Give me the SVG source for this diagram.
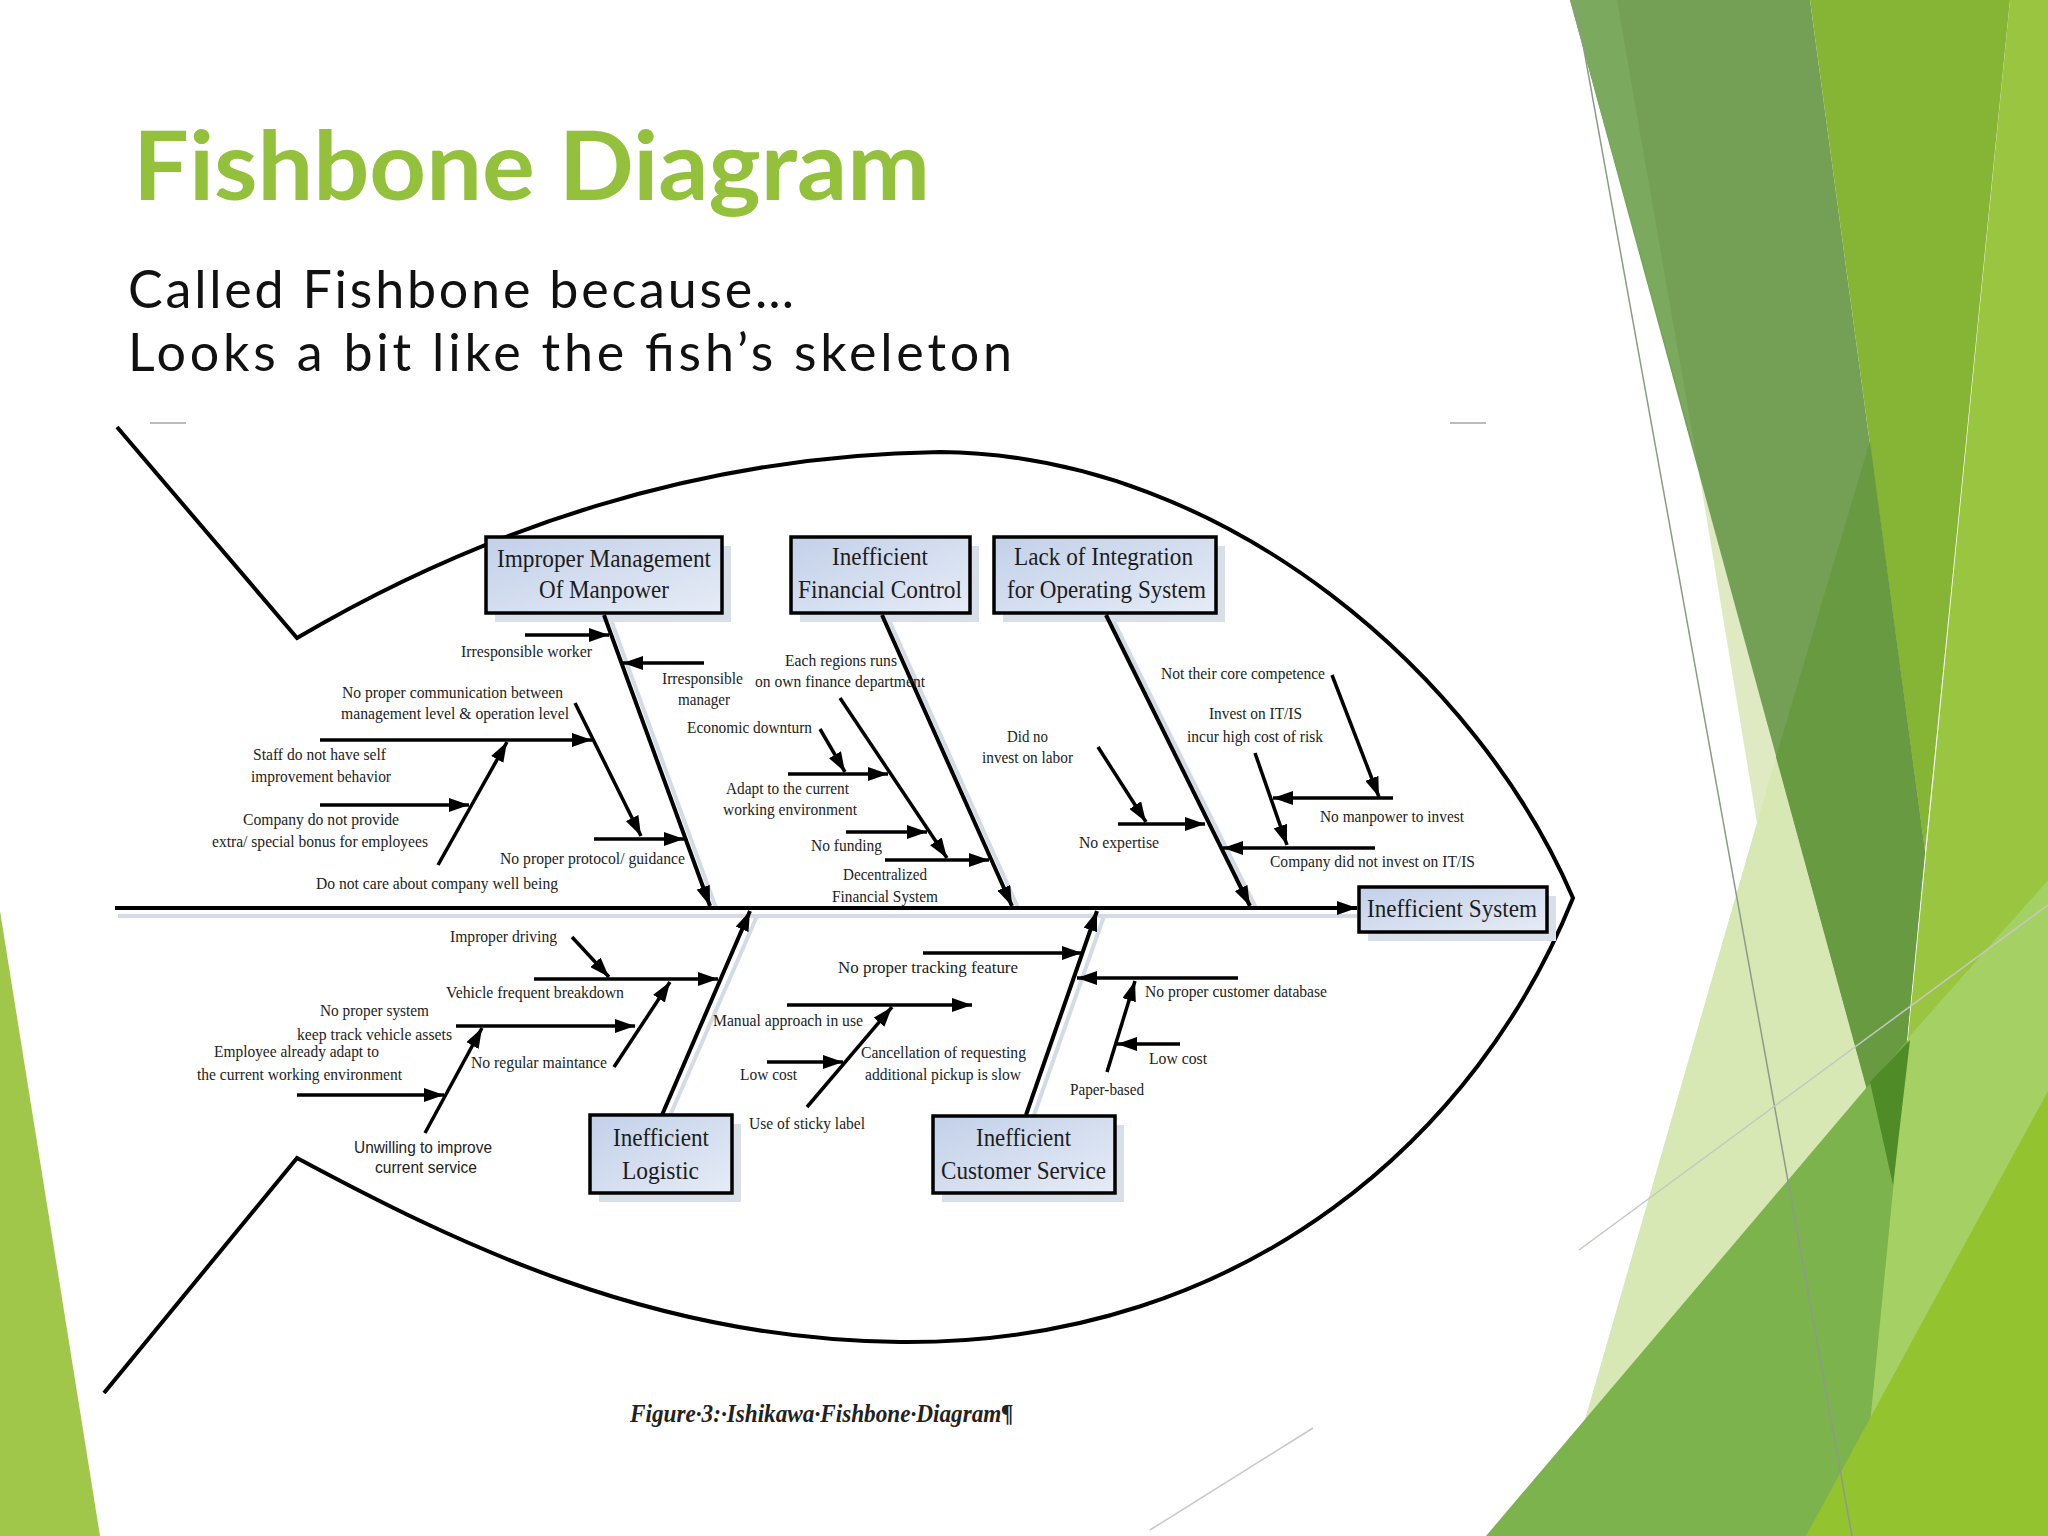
<svg xmlns="http://www.w3.org/2000/svg" width="2048" height="1536" viewBox="0 0 2048 1536">
<defs>
<style>
.lbl{font-family:"Liberation Serif","Times New Roman",serif;font-size:17px;fill:#222;}
.lbs{font-family:"Liberation Sans",Arial,sans-serif;font-size:17px;fill:#222;}
.bt{font-family:"Liberation Serif","Times New Roman",serif;font-size:26px;fill:#1c1c1c;}
.box{fill:url(#bgr);stroke:#000;stroke-width:3.5;}
.shd{fill:#d9dfe8;}
.bone{stroke:#000;stroke-width:4;fill:none;marker-end:url(#ah);}
.sub{stroke:#000;stroke-width:3.5;fill:none;marker-end:url(#ah);}
.lsh{stroke:#d4dbe6;stroke-width:4;fill:none;}
.fish{stroke:#000;stroke-width:4;fill:none;stroke-linejoin:miter;}
</style>
<linearGradient id="bgr" x1="0" y1="0" x2="1" y2="1">
<stop offset="0" stop-color="#c2d0e9"/>
<stop offset="1" stop-color="#e6ecf6"/>
</linearGradient>
<marker id="ah" viewBox="0 0 20 14" markerWidth="20" markerHeight="14" refX="20" refY="7" orient="auto" markerUnits="userSpaceOnUse">
<path d="M0,0 L20,7 L0,14 z" fill="#000"/>
</marker>
</defs>
<rect width="2048" height="1536" fill="#fff"/>
<g id="decor">
<polygon points="0,911 0,1536 100,1536" fill="#a0c64a"/>
<polygon points="1697,460 1893,1185 1585,1420 1757,823" fill="#dfeac3"/>
<polygon points="1570,0 1810,0 1925,852 1893,1185" fill="#73a054"/>
<polygon points="1570,0 1617,0 1697,460" fill="#7ba95d"/>
<polygon points="1810,0 2010,0 1925,852" fill="#86b535"/>
<polygon points="2010,0 2048,0 2048,1536 1859,1536" fill="#9ac541"/>
<polygon points="1776,757 1893,1185 1585,1420" fill="#d8e8b4"/>
<polygon points="1870,441 1925,852 1893,1185 1776,757" fill="#689b41"/>
<polygon points="1486,1536 1867,1087 2048,880 2048,1536" fill="#7cb34c"/>
<polygon points="1908,1038 2048,880 2048,1536 1859,1536" fill="#a5d164"/>
<polygon points="1806,1536 2048,1091 2048,1536" fill="#93c32f"/>
<polygon points="1870,1082 1910,1040 1893,1185" fill="#4f8b27"/>
<line x1="1575" y1="0" x2="1852" y2="1536" stroke="#8e9a88" stroke-width="1.5"/>
<line x1="1579" y1="1250" x2="2048" y2="905" stroke="#c4c8c0" stroke-width="1.5"/>
<line x1="1313" y1="1428" x2="1150" y2="1530" stroke="#c8c8c8" stroke-width="1.5"/>
</g>
<g id="title">
<text x="133" y="200" font-family="Lato,'Open Sans',sans-serif" font-weight="bold" font-size="96" fill="#93c13b" textLength="797" lengthAdjust="spacingAndGlyphs">Fishbone Diagram</text>
<text x="128" y="308" font-family="Lato,'Open Sans',sans-serif" font-size="52" fill="#111" textLength="666" lengthAdjust="spacing">Called Fishbone because…</text>
<text x="128" y="371" font-family="Lato,'Open Sans',sans-serif" font-size="52" fill="#111" textLength="884" lengthAdjust="spacing">Looks a bit like the fish’s skeleton</text>
</g>
<g id="fish-outline">
<path class="fish" d="M117,427 L297,638 C480,530 700,455 940,452 C1230,455 1480,680 1573,898 C1480,1130 1250,1345 900,1342 C650,1340 450,1240 297,1158 L104,1393"/>
<line x1="150" y1="423" x2="186" y2="423" stroke="#bbb" stroke-width="2"/>
<line x1="1450" y1="423" x2="1486" y2="423" stroke="#bbb" stroke-width="2"/>
</g>
<g id="shadows">
<line class="lsh" x1="118" y1="916" x2="1357" y2="916"/>
<line class="lsh" x1="611" y1="620" x2="716" y2="908"/>
<line class="lsh" x1="889" y1="620" x2="1018" y2="908"/>
<line class="lsh" x1="1113" y1="620" x2="1256" y2="908"/>
<line class="lsh" x1="669" y1="1118" x2="757" y2="916"/>
<line class="lsh" x1="1033" y1="1118" x2="1104" y2="916"/>
<rect class="shd" x="495" y="546" width="236" height="76"/>
<rect class="shd" x="800" y="546" width="179" height="76"/>
<rect class="shd" x="1003" y="546" width="222" height="76"/>
<rect class="shd" x="599" y="1124" width="142" height="78"/>
<rect class="shd" x="942" y="1125" width="182" height="77"/>
<rect class="shd" x="1368" y="896" width="188" height="45"/>
</g>
<g id="connectors">
<line class="bone" x1="115" y1="908" x2="1357" y2="908"/>
<line class="bone" x1="604" y1="615" x2="710" y2="906"/>
<line class="bone" x1="882" y1="615" x2="1012" y2="906"/>
<line class="bone" x1="1106" y1="615" x2="1250" y2="906"/>
<line class="bone" x1="662" y1="1115" x2="750" y2="911"/>
<line class="bone" x1="1026" y1="1115" x2="1097" y2="911"/>
<line class="sub" x1="525" y1="635" x2="609" y2="635"/>
<line class="sub" x1="704" y1="663" x2="623" y2="663"/>
<line class="sub" x1="575" y1="703" x2="641" y2="836"/>
<line class="sub" x1="320" y1="740" x2="592" y2="740"/>
<line class="sub" x1="320" y1="805" x2="469" y2="805"/>
<line class="sub" x1="438" y1="865" x2="507" y2="742"/>
<line class="sub" x1="594" y1="839" x2="684" y2="839"/>
<line class="sub" x1="840" y1="698" x2="947" y2="858"/>
<line class="sub" x1="820" y1="729" x2="845" y2="772"/>
<line class="sub" x1="788" y1="774" x2="888" y2="774"/>
<line class="sub" x1="846" y1="832" x2="927" y2="832"/>
<line class="sub" x1="885" y1="860" x2="989" y2="860"/>
<line class="sub" x1="1098" y1="747" x2="1146" y2="822"/>
<line class="sub" x1="1118" y1="824" x2="1205" y2="824"/>
<line class="sub" x1="1332" y1="675" x2="1379" y2="797"/>
<line class="sub" x1="1255" y1="753" x2="1287" y2="845"/>
<line class="sub" x1="1393" y1="798" x2="1273" y2="798"/>
<line class="sub" x1="1375" y1="848" x2="1223" y2="848"/>
<line class="sub" x1="572" y1="937" x2="609" y2="977"/>
<line class="sub" x1="534" y1="979" x2="718" y2="979"/>
<line class="sub" x1="456" y1="1026" x2="635" y2="1026"/>
<line class="sub" x1="614" y1="1067" x2="670" y2="982"/>
<line class="sub" x1="297" y1="1095" x2="444" y2="1095"/>
<line class="sub" x1="425" y1="1133" x2="482" y2="1028"/>
<line class="sub" x1="923" y1="953" x2="1082" y2="953"/>
<line class="sub" x1="787" y1="1005" x2="972" y2="1005"/>
<line class="sub" x1="767" y1="1062" x2="843" y2="1062"/>
<line class="sub" x1="807" y1="1107" x2="892" y2="1007"/>
<line class="sub" x1="1238" y1="978" x2="1077" y2="978"/>
<line class="sub" x1="1180" y1="1044" x2="1117" y2="1044"/>
<line class="sub" x1="1107" y1="1072" x2="1135" y2="981"/>
</g>
<g id="box-manpower">
<rect class="box" x="486" y="537" width="236" height="76"/>
<text class="bt" x="497" y="567" textLength="214" lengthAdjust="spacingAndGlyphs">Improper Management</text>
<text class="bt" x="539" y="598" textLength="130" lengthAdjust="spacingAndGlyphs">Of Manpower</text>
</g>
<g id="box-financial">
<rect class="box" x="791" y="537" width="179" height="76"/>
<text class="bt" x="832" y="565" textLength="96" lengthAdjust="spacingAndGlyphs">Inefficient</text>
<text class="bt" x="798" y="598" textLength="164" lengthAdjust="spacingAndGlyphs">Financial Control</text>
</g>
<g id="box-integration">
<rect class="box" x="994" y="537" width="222" height="76"/>
<text class="bt" x="1014" y="565" textLength="179" lengthAdjust="spacingAndGlyphs">Lack of Integration</text>
<text class="bt" x="1007" y="598" textLength="199" lengthAdjust="spacingAndGlyphs">for Operating System</text>
</g>
<g id="box-logistic">
<rect class="box" x="590" y="1115" width="142" height="78"/>
<text class="bt" x="613" y="1146" textLength="96" lengthAdjust="spacingAndGlyphs">Inefficient</text>
<text class="bt" x="622" y="1179" textLength="77" lengthAdjust="spacingAndGlyphs">Logistic</text>
</g>
<g id="box-customer">
<rect class="box" x="933" y="1116" width="182" height="77"/>
<text class="bt" x="976" y="1146" textLength="95" lengthAdjust="spacingAndGlyphs">Inefficient</text>
<text class="bt" x="941" y="1179" textLength="165" lengthAdjust="spacingAndGlyphs">Customer Service</text>
</g>
<g id="box-system">
<rect class="box" x="1359" y="887" width="188" height="45"/>
<text class="bt" x="1367" y="917" font-size="27" textLength="170" lengthAdjust="spacingAndGlyphs">Inefficient System</text>
</g>
<g id="cause-irresponsible-worker"><text class="lbl" x="461" y="657" textLength="131" lengthAdjust="spacingAndGlyphs">Irresponsible worker</text></g>
<g id="cause-irresponsible-manager"><text class="lbl" x="662" y="684" textLength="81" lengthAdjust="spacingAndGlyphs">Irresponsible</text><text class="lbl" x="678" y="705" textLength="52" lengthAdjust="spacingAndGlyphs">manager</text></g>
<g id="cause-communication"><text class="lbl" x="342" y="698" textLength="221" lengthAdjust="spacingAndGlyphs">No proper communication between</text><text class="lbl" x="341" y="719" textLength="228" lengthAdjust="spacingAndGlyphs">management level &amp; operation level</text></g>
<g id="cause-staff"><text class="lbl" x="253" y="760" textLength="133" lengthAdjust="spacingAndGlyphs">Staff do not have self</text><text class="lbl" x="251" y="782" textLength="140" lengthAdjust="spacingAndGlyphs">improvement behavior</text></g>
<g id="cause-bonus"><text class="lbl" x="243" y="825" textLength="156" lengthAdjust="spacingAndGlyphs">Company do not provide</text><text class="lbl" x="212" y="847" textLength="216" lengthAdjust="spacingAndGlyphs">extra/ special bonus for employees</text></g>
<g id="cause-care"><text class="lbl" x="316" y="889" textLength="242" lengthAdjust="spacingAndGlyphs">Do not care about company well being</text></g>
<g id="cause-protocol"><text class="lbl" x="500" y="864" textLength="185" lengthAdjust="spacingAndGlyphs">No proper protocol/ guidance</text></g>
<g id="cause-regions"><text class="lbl" x="785" y="666" textLength="112" lengthAdjust="spacingAndGlyphs">Each regions runs</text><text class="lbl" x="755" y="687" textLength="170" lengthAdjust="spacingAndGlyphs">on own finance department</text></g>
<g id="cause-economic"><text class="lbl" x="687" y="733" textLength="125" lengthAdjust="spacingAndGlyphs">Economic downturn</text></g>
<g id="cause-adapt"><text class="lbl" x="726" y="794" textLength="123" lengthAdjust="spacingAndGlyphs">Adapt to the current</text><text class="lbl" x="723" y="815" textLength="134" lengthAdjust="spacingAndGlyphs">working environment</text></g>
<g id="cause-funding"><text class="lbl" x="811" y="851" textLength="71" lengthAdjust="spacingAndGlyphs">No funding</text></g>
<g id="cause-decentralized"><text class="lbl" x="843" y="880" textLength="84" lengthAdjust="spacingAndGlyphs">Decentralized</text><text class="lbl" x="832" y="902" textLength="106" lengthAdjust="spacingAndGlyphs">Financial System</text></g>
<g id="cause-labor"><text class="lbl" x="1007" y="742" textLength="41" lengthAdjust="spacingAndGlyphs">Did no</text><text class="lbl" x="982" y="763" textLength="91" lengthAdjust="spacingAndGlyphs">invest on labor</text></g>
<g id="cause-expertise"><text class="lbl" x="1079" y="848" textLength="80" lengthAdjust="spacingAndGlyphs">No expertise</text></g>
<g id="cause-core"><text class="lbl" x="1161" y="679" textLength="164" lengthAdjust="spacingAndGlyphs">Not their core competence</text></g>
<g id="cause-itis-risk"><text class="lbl" x="1209" y="719" textLength="93" lengthAdjust="spacingAndGlyphs">Invest on IT/IS</text><text class="lbl" x="1187" y="742" textLength="136" lengthAdjust="spacingAndGlyphs">incur high cost of risk</text></g>
<g id="cause-manpower-invest"><text class="lbl" x="1320" y="822" textLength="144" lengthAdjust="spacingAndGlyphs">No manpower to invest</text></g>
<g id="cause-itis"><text class="lbl" x="1270" y="867" textLength="205" lengthAdjust="spacingAndGlyphs">Company did not invest on IT/IS</text></g>
<g id="cause-driving"><text class="lbl" x="450" y="942" textLength="107" lengthAdjust="spacingAndGlyphs">Improper driving</text></g>
<g id="cause-breakdown"><text class="lbl" x="446" y="998" textLength="178" lengthAdjust="spacingAndGlyphs">Vehicle frequent breakdown</text></g>
<g id="cause-system"><text class="lbl" x="320" y="1016" textLength="109" lengthAdjust="spacingAndGlyphs">No proper system</text><text class="lbl" x="297" y="1040" textLength="155" lengthAdjust="spacingAndGlyphs">keep track vehicle assets</text></g>
<g id="cause-maintance"><text class="lbl" x="471" y="1068" textLength="136" lengthAdjust="spacingAndGlyphs">No regular maintance</text></g>
<g id="cause-employee"><text class="lbl" x="214" y="1057" textLength="165" lengthAdjust="spacingAndGlyphs">Employee already adapt to</text><text class="lbl" x="197" y="1080" textLength="205" lengthAdjust="spacingAndGlyphs">the current working environment</text></g>
<g id="cause-unwilling"><text class="lbs" x="354" y="1153" textLength="138" lengthAdjust="spacingAndGlyphs">Unwilling to improve</text><text class="lbs" x="375" y="1173" textLength="102" lengthAdjust="spacingAndGlyphs">current service</text></g>
<g id="cause-tracking"><text class="lbl" x="838" y="973" textLength="180" lengthAdjust="spacingAndGlyphs">No proper tracking feature</text></g>
<g id="cause-manual"><text class="lbl" x="713" y="1026" textLength="150" lengthAdjust="spacingAndGlyphs">Manual approach in use</text></g>
<g id="cause-lowcost-1"><text class="lbl" x="740" y="1080" textLength="57" lengthAdjust="spacingAndGlyphs">Low cost</text></g>
<g id="cause-sticky"><text class="lbl" x="749" y="1129" textLength="116" lengthAdjust="spacingAndGlyphs">Use of sticky label</text></g>
<g id="cause-cancellation"><text class="lbl" x="861" y="1058" textLength="165" lengthAdjust="spacingAndGlyphs">Cancellation of requesting</text><text class="lbl" x="865" y="1080" textLength="156" lengthAdjust="spacingAndGlyphs">additional pickup is slow</text></g>
<g id="cause-database"><text class="lbl" x="1145" y="997" textLength="182" lengthAdjust="spacingAndGlyphs">No proper customer database</text></g>
<g id="cause-lowcost-2"><text class="lbl" x="1149" y="1064" textLength="58" lengthAdjust="spacingAndGlyphs">Low cost</text></g>
<g id="cause-paper"><text class="lbl" x="1070" y="1095" textLength="74" lengthAdjust="spacingAndGlyphs">Paper-based</text></g>
<g id="caption"><text x="630" y="1422" font-family="'Liberation Serif','Times New Roman',serif" font-style="italic" font-weight="bold" font-size="25" fill="#222" textLength="383" lengthAdjust="spacingAndGlyphs">Figure·3:·Ishikawa·Fishbone·Diagram¶</text></g>
</svg>
